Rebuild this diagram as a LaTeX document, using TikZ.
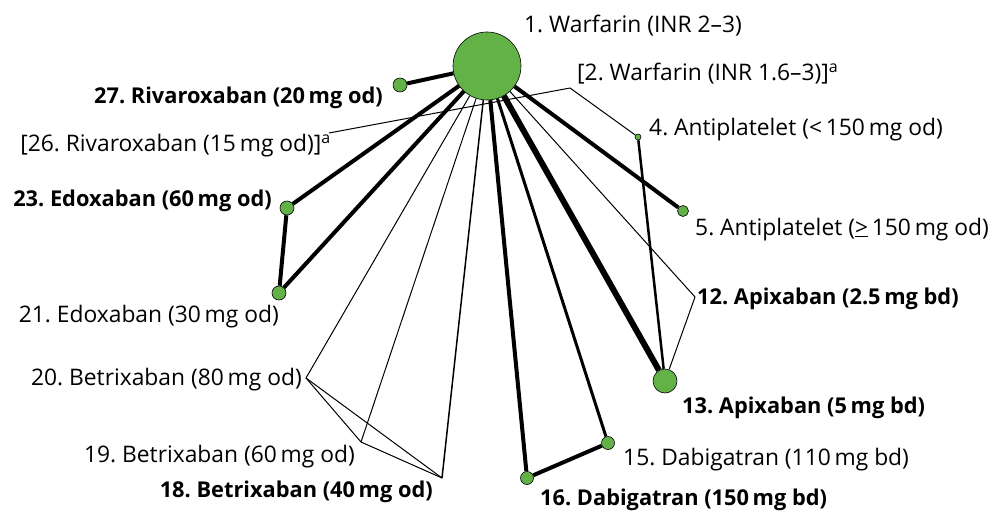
\documentclass[tikz,border=0pt]{standalone}
\usepackage{fontspec}
\setmainfont{Open Sans}
\definecolor{ngreen}{RGB}{99,178,72}
\begin{document}
\frenchspacing
\begin{tikzpicture}[x=1pt,y=-1pt,
  trt/.style={circle,draw=black,line width=0.6pt,fill=ngreen,inner sep=0pt,minimum size=#1},
  lab/.style={inner sep=0pt,font=\fontsize{22.8}{26}\selectfont},
  blab/.style={inner sep=0pt,font=\fontsize{21.8}{25}\selectfont\bfseries},
  e1/.style={line width=1pt},
  e15/.style={line width=1.5pt},
  e3/.style={line width=3pt},
  e4/.style={line width=4pt},
  e6/.style={line width=6pt}]
\useasboundingbox (0,0) rectangle (995,511);
% treatment nodes
\node[trt=68pt] (n1) at (487,66) {};
\coordinate (n2) at (570,88);
\node[trt=6pt] (n4) at (638,137) {};
\node[trt=11pt] (n5) at (683,211) {};
\coordinate (n12) at (695,297);
\node[trt=24pt] (n13) at (665,381) {};
\node[trt=13pt] (n15) at (608,443) {};
\node[trt=13pt] (n16) at (527,478) {};
\coordinate (n18) at (442,478);
\coordinate (n19) at (361,442);
\coordinate (n20) at (306,378);
\node[trt=14pt] (n21) at (279,293) {};
\node[trt=14pt] (n23) at (287,208) {};
\coordinate (n26) at (329,133);
\node[trt=14pt] (n27) at (400,85) {};
% edges
\draw[e4] (n1) -- (n27);
\draw[e4] (n1) -- (n23);
\draw[e4] (n1) -- (n21);
\draw[e1] (n1) -- (n20);
\draw[e1] (n1) -- (n19);
\draw[e15] (n1) -- (n18);
\draw[e4] (n1) -- (n16);
\draw[e3] (n1) -- (n15);
\draw[e6] (n1) -- (n13);
\draw[e1] (n1) -- (n12);
\draw[e4] (n1) -- (n5);
\draw[e1] (n26) -- (n2);
\draw[e1] (n2) -- (n4);
\draw[line width=2.5pt] (n4) -- (n13);
\draw[e1] (n12) -- (n13);
\draw[e4] (n23) -- (n21);
\draw[e4] (n16) -- (n15);
\draw[e1] (n20) -- (n19);
\draw[e1] (n20) -- (n18);
\draw[e1] (n19) -- (n18);
% labels
\node[lab,anchor=base west] (l1) at (524,33) {1. Warfarin (INR 2–3)};
\node[lab,anchor=base west] (l2) at (577,80) {[2. Warfarin (INR 1.6–3)]\textsuperscript{a}};
\node[lab,anchor=base west] (l4) at (649,135) {4. Antiplatelet (<\,150\,mg od)};
\node[lab,anchor=base west] (l5) at (695,235) {5. Antiplatelet (\underline{>}\,150\,mg od)};
\node[blab,anchor=base west] (l12) at (697,304) {12. Apixaban (2.5\,mg bd)};
\node[blab,anchor=base west] (l13) at (682,413) {13. Apixaban (5\,mg bd)};
\node[lab,anchor=base west] (l15) at (623,465) {15. Dabigatran (110\,mg bd)};
\node[blab,anchor=base west] (l16) at (540,505) {16. Dabigatran (150\,mg bd)};
\node[blab,anchor=base east] (l18) at (433,497) {18. Betrixaban (40\,mg od)};
\node[lab,anchor=base east] (l19) at (355,462) {19. Betrixaban (60\,mg od)};
\node[lab,anchor=base east] (l20) at (302,385) {20. Betrixaban (80\,mg od)};
\node[lab,anchor=base east] (l21) at (279,322) {21. Edoxaban (30\,mg od)};
\node[blab,anchor=base east] (l23) at (272,206) {23. Edoxaban (60\,mg od)};
\node[lab,anchor=base east] (l26) at (331,151) {[26. Rivaroxaban (15\,mg od)]\textsuperscript{a}};
\node[blab,anchor=base east] (l27) at (383,103) {27. Rivaroxaban (20\,mg od)};
\end{tikzpicture}
\end{document}
